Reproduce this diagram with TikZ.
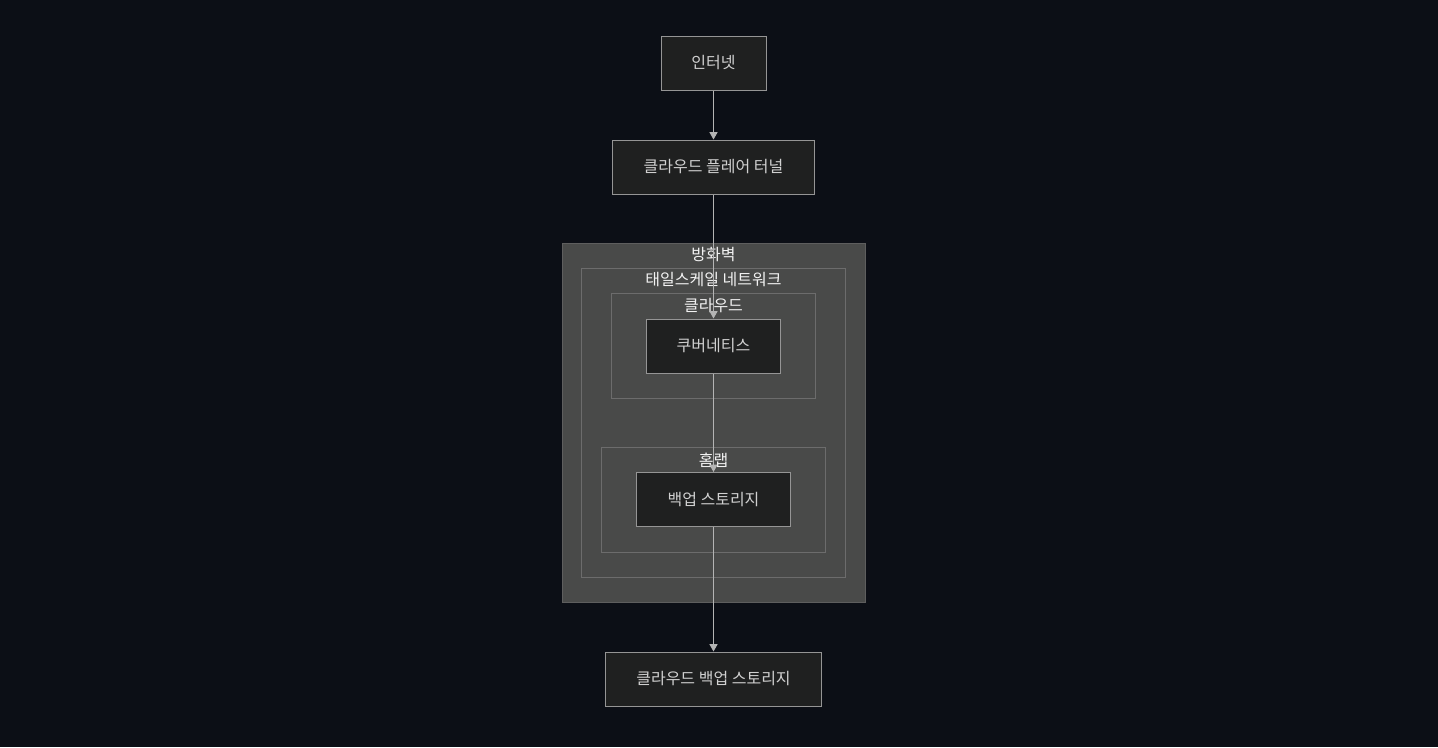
\documentclass[tikz,border=0pt]{standalone}
\usepackage{fontspec}
\setmainfont{Noto Sans CJK KR}
\usetikzlibrary{arrows.meta}
\definecolor{bgdark}{HTML}{0C0F16}
\definecolor{clusterfill}{HTML}{494A49}
\definecolor{clusterline}{HTML}{5E5E5E}
\definecolor{innerline}{HTML}{6C6C6C}
\definecolor{nodefill}{HTML}{1F2020}
\definecolor{nodeline}{HTML}{959595}
\definecolor{nodetext}{HTML}{D0D0D0}
\definecolor{edgeline}{HTML}{B4B4B4}

\begin{document}
\begin{tikzpicture}[x=0.75pt,y=0.75pt,yscale=-1,xscale=1,
  box/.style={draw=nodeline,fill=nodefill,line width=0.75pt,text=nodetext,minimum height=40.5pt,inner sep=0pt,font=\fontsize{12}{14}\selectfont},
  cluster/.style={draw=clusterline,fill=clusterfill,line width=0.75pt},
  subcluster/.style={draw=innerline,line width=0.75pt},
  clusterlabel/.style={text=white!90!gray,inner sep=0pt,font=\fontsize{12}{14}\selectfont},
  link/.style={draw=edgeline,line width=0.75pt,-{Triangle[length=5.5pt,width=6pt]}}]
\useasboundingbox (0,0) rectangle (1438,747);
\fill[bgdark] (0,0) rectangle (1438,747);
% Clusters
\draw[cluster] (562,243) rectangle (865,602);
\draw[subcluster] (581,268) rectangle (845,577);
\draw[subcluster] (611,293) rectangle (815,398);
\draw[subcluster] (601,447) rectangle (825,552);
\node[clusterlabel] (firewall) at (713.5,255) {방화벽};
\node[clusterlabel] (tailscale) at (713.5,280) {태일스케일 네트워크};
\node[clusterlabel] (cloud) at (713.5,306) {클라우드};
\node[clusterlabel] (homelab) at (713.5,460) {홈랩};
% Nodes
\node[box,minimum width=78.75pt] (internet) at (713.5,63) {인터넷};
\node[box,minimum width=151.5pt] (tunnel) at (713.5,167) {클라우드 플레어 터널};
\node[box,minimum width=100.5pt] (k8s) at (713.5,346) {쿠버네티스};
\node[box,minimum width=115.5pt] (backup) at (713.5,499.5) {백업 스토리지};
\node[box,minimum width=162pt] (cloudbackup) at (713.5,679) {클라우드 백업 스토리지};
% Links
\draw[link] (internet) -- (tunnel);
\draw[link] (tunnel) -- (k8s);
\draw[link] (k8s) -- (backup);
\draw[link] (backup) -- (cloudbackup);
\end{tikzpicture}
\end{document}
